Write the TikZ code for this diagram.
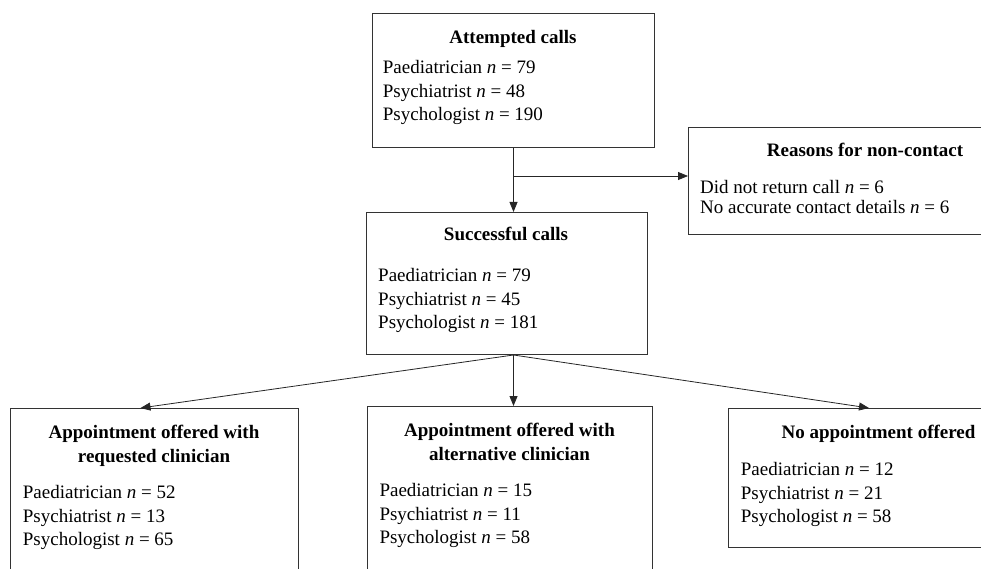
\documentclass[tikz,border=0pt]{standalone}
\usepackage{fontspec}
\setmainfont{Liberation Serif}
\usetikzlibrary{arrows.meta,calc}
\tikzset{
	box/.style={draw=black!80, line width=1pt, anchor=north west, inner sep=0pt},
	ttl/.style={font=\fontsize{19}{24}\selectfont\bfseries, anchor=north, align=center, inner sep=0pt},
	lst/.style={font=\fontsize{19}{23.8}\selectfont, anchor=north west, align=left, inner sep=0pt},
	arr/.style={-{Triangle[length=10pt,width=8pt]}, line width=0.8pt, draw=black!85}
}
\newcommand{\nn}[1]{\textit{n} = #1}

\begin{document}
\begin{tikzpicture}[x=1pt, y=-1pt]
		%%%%% START %%%%%
		\useasboundingbox (0,0) rectangle (981,569);
		\clip (0,0) rectangle (981,569);
		
		\node[box, minimum width=282pt, minimum height=134pt] (attempted) at (372,13) {};
		\node[ttl] (attempted-t) at (513,29.7) {Attempted calls};
		\node[lst] (attempted-l) at (382.7,60) {Paediatrician \nn{79}\\Psychiatrist \nn{48}\\Psychologist \nn{190}};
		
		\node[box, minimum width=354pt, minimum height=107pt] (reasons) at (688,127) {};
		\node[ttl] (reasons-t) at (865,143) {Reasons for non-contact};
		\node[lst, font=\fontsize{19}{20.5}\selectfont] (reasons-l) at (700,179.7) {Did not return call \nn{6}\\No accurate contact details \nn{6}};
		
		\node[box, minimum width=281pt, minimum height=142pt] (successful) at (366,212) {};
		\node[ttl] (successful-t) at (506,227) {Successful calls};
		\node[lst] (successful-l) at (378,268) {Paediatrician \nn{79}\\Psychiatrist \nn{45}\\Psychologist \nn{181}};
		
		\node[box, minimum width=288pt, minimum height=200pt] (requested) at (10,408) {};
		\node[ttl] (requested-t) at (154,425) {Appointment offered with\\requested clinician};
		\node[lst] (requested-l) at (22.7,485) {Paediatrician \nn{52}\\Psychiatrist \nn{13}\\Psychologist \nn{65}};
		
		\node[box, minimum width=285pt, minimum height=200pt] (alternative) at (367,406) {};
		\node[ttl] (alternative-t) at (509.5,422.7) {Appointment offered with\\alternative clinician};
		\node[lst] (alternative-l) at (379.3,483) {Paediatrician \nn{15}\\Psychiatrist \nn{11}\\Psychologist \nn{58}};
		
		\node[box, minimum width=301pt, minimum height=139pt] (noappt) at (728,408) {};
		\node[ttl] (noappt-t) at (878.5,425.3) {No appointment offered};
		\node[lst] (noappt-l) at (740.7,462) {Paediatrician \nn{12}\\Psychiatrist \nn{21}\\Psychologist \nn{58}};
		
		% connectors
		\draw[arr] (attempted.south) -- (attempted.south |- successful.north);
		\coordinate (branch) at ($(attempted.south)+(0,28)$);
		\draw[arr] (branch) -- (branch -| reasons.west);
		
		\coordinate (split) at (attempted.south |- successful.south);
		\draw[arr] (split) -- ($(requested.north)+(-14,0)$);
		\draw[arr] (split) -- (split |- alternative.north);
		\draw[arr] (split) -- ($(noappt.north)+(-10,0)$);
		
		%%%%% END %%%%%
\end{tikzpicture}
\end{document}
